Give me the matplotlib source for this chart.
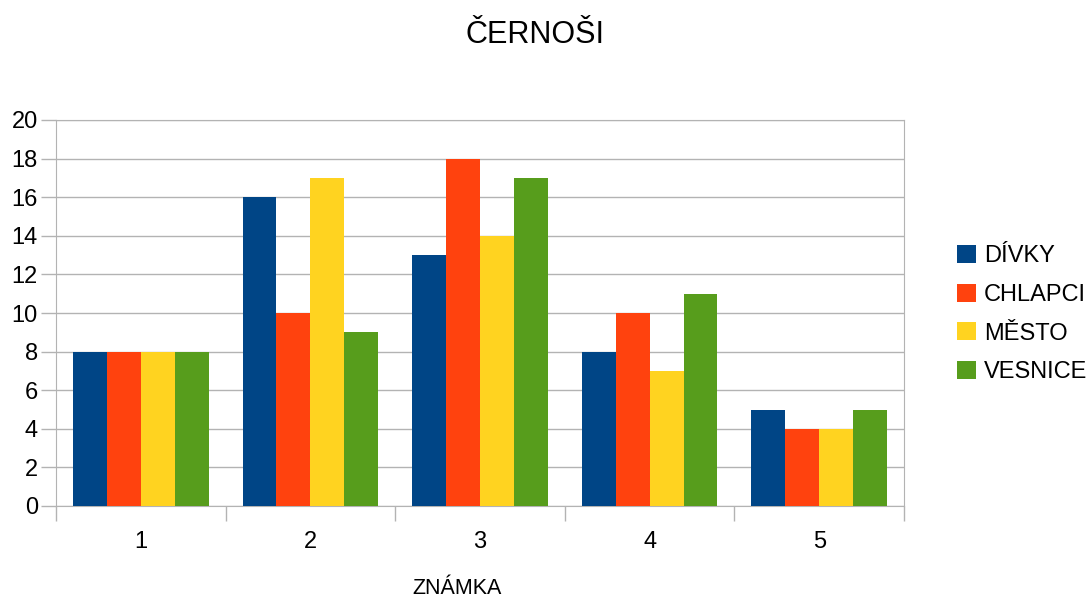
import numpy as np
import matplotlib
matplotlib.use("Agg")
import matplotlib.pyplot as plt

plt.rcParams["font.family"] = ["Liberation Sans", "DejaVu Sans"]

categories = ["1", "2", "3", "4", "5"]
series_names = ["DÍVKY", "CHLAPCI", "MĚSTO", "VESNICE"]
divky = [8, 16, 13, 8, 5]
chlapci = [8, 10, 18, 10, 4]
mesto = [8, 17, 14, 7, 4]
vesnice = [8, 9, 17, 11, 5]
colors = ["#004586", "#ff420e", "#ffd320", "#579d1c"]

fig = plt.figure(figsize=(10.9, 5.99), dpi=100)
ax = fig.add_axes([56 / 1090, 1 - 506 / 599, (904 - 56) / 1090, (506 - 120) / 599])

x = np.arange(len(categories))
width = 0.2
for i, (vals, name) in enumerate(zip([divky, chlapci, mesto, vesnice], series_names)):
    ax.bar(x + (i - 1.5) * width, vals, width, color=colors[i], label=name, zorder=3)

ax.set_xlim(-0.5, len(categories) - 0.5)
ax.set_ylim(0, 20)
ax.set_yticks(range(0, 21, 2))
ax.yaxis.grid(True, color="#b3b3b3", linewidth=1, zorder=0)
for s in ax.spines.values():
    s.set_color("#b3b3b3")
ax.tick_params(axis="y", colors="#b3b3b3", length=11, width=1, labelcolor="black",
               labelsize=17, pad=2)

# category ticks at boundaries, labels centered
ax.set_xticks(np.arange(-0.5, len(categories) + 0.5, 1))
ax.set_xticklabels([])
ax.set_xticks(x, minor=True)
ax.set_xticklabels(categories, minor=True)
ax.tick_params(axis="x", which="major", colors="#b3b3b3", length=11, width=1)
ax.tick_params(axis="x", which="minor", length=0, labelsize=17, pad=18)

fig.text(457 / 1090, 1 - 589 / 599, "ZNÁMKA", fontsize=15.5, ha="center", va="center")
fig.text(535 / 1090, 1 - 35 / 599, "ČERNOŠI", fontsize=22, ha="center", va="center")

ax.legend(loc="center left", bbox_to_anchor=(957 / 1090, 1 - 314 / 599),
          bbox_transform=fig.transFigure,
          frameon=False, fontsize=17, handlelength=0.8, handleheight=0.8,
          handletextpad=0.35, labelspacing=0.7, borderaxespad=0, borderpad=0)

fig.savefig("out.png", dpi=100)
